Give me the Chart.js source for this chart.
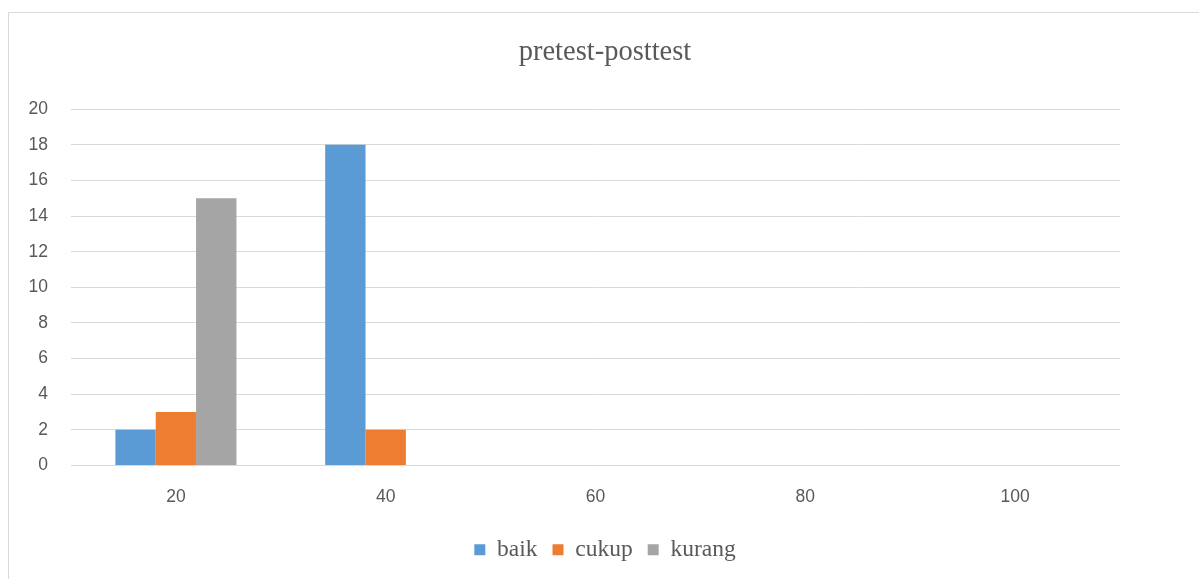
<!DOCTYPE html>
<html>
<head>
<meta charset="utf-8">
<script src="https://cdn.jsdelivr.net/npm/chart.js@4/dist/chart.umd.min.js"></script>
<style>
  html, body { margin: 0; padding: 0; background: #fff; overflow: hidden; width: 1199px; height: 579px; }
  #frame { position: absolute; left: 8px; top: 12px; width: 1300px; height: 700px; border-left: 1px solid #d9d9d9; border-top: 1px solid #d9d9d9; }
  #c { position: absolute; left: 0; top: 0; }
</style>
</head>
<body>
<div id="frame"></div>
<canvas id="c" width="1210" height="579"></canvas>
<script>
const categories = ['20', '40', '60', '80', '100'];
const baik = [2, 18, 0, 0, 0];
const cukup = [3, 2, 0, 0, 0];
const kurang = [15, 0, 0, 0, 0];
const seriesNames = ['baik', 'cukup', 'kurang'];
const seriesColors = ['#5B9BD5', '#ED7D31', '#A5A5A5'];
const yTicks = [0, 2, 4, 6, 8, 10, 12, 14, 16, 18, 20];

const textColor = '#595959';
const gridColor = '#d9d9d9';

new Chart(document.getElementById('c'), {
  type: 'bar',
  data: {
    labels: categories,
    datasets: [baik, cukup, kurang].map((d, i) => ({
      label: seriesNames[i],
      data: d,
      backgroundColor: seriesColors[i],
      borderWidth: 0,
      categoryPercentage: 0.577,
      barPercentage: 1
    }))
  },
  options: {
    responsive: false,
    animation: false,
    devicePixelRatio: 1,
    layout: { padding: { left: 0, right: 0, top: 0, bottom: 7.5 } },
    plugins: {
      title: {
        display: true,
        text: 'pretest-posttest',
        color: textColor,
        font: { family: '"Liberation Serif", "Times New Roman", serif', size: 28.5, weight: 'normal' },
        padding: { top: 35, bottom: 40 }
      },
      legend: {
        position: 'bottom',
        labels: {
          color: textColor,
          boxWidth: 11,
          boxHeight: 11,
          padding: 15,
          font: { family: '"Liberation Serif", "Times New Roman", serif', size: 23.5 }
        }
      },
      tooltip: { enabled: false }
    },
    scales: {
      x: {
        grid: { display: false, drawTicks: false },
        border: { display: false },
        ticks: {
          color: textColor,
          padding: 21,
          font: { family: '"Liberation Sans", Arial, sans-serif', size: 17.5 }
        },
        afterFit: (s) => { s.height = 57.5; }
      },
      y: {
        min: 0,
        max: 20,
        afterBuildTicks: (s) => { s.ticks = yTicks.map(v => ({ value: v })); },
        grid: { color: gridColor, lineWidth: 1, drawTicks: false },
        border: { display: false },
        ticks: {
          color: textColor,
          padding: 23,
          font: { family: '"Liberation Sans", Arial, sans-serif', size: 17.5 }
        },
        afterFit: (s) => { s.width = 71; }
      },
      yRightSpace: {
        type: 'linear',
        position: 'right',
        min: 0,
        max: 20,
        grid: { display: false, drawTicks: false },
        border: { display: false },
        ticks: { display: false },
        afterFit: (s) => { s.width = 90; }
      }
    }
  }
});
</script>
</body>
</html>
